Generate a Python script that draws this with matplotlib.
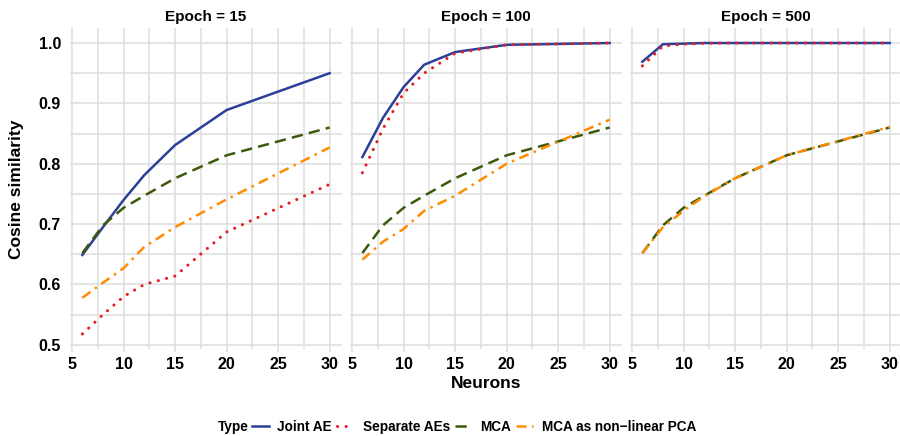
import matplotlib
matplotlib.use("Agg")
import matplotlib.pyplot as plt
from matplotlib.lines import Line2D
from matplotlib.ticker import MultipleLocator

plt.rcParams['font.family'] = ['Liberation Sans', 'DejaVu Sans']
plt.rcParams['font.weight'] = 'bold'

# ---------------- data ----------------
neurons = [6, 8, 10, 12, 15, 20, 30]
epochs = [15, 100, 500]
types = ["Joint AE", "Separate AEs", "MCA", "MCA as non\u2212linear PCA"]

joint_15 = [0.649, 0.695, 0.740, 0.781, 0.831, 0.889, 0.950]
sep_15 = [0.518, 0.550, 0.580, 0.600, 0.614, 0.687, 0.766]
mca_15 = [0.652, 0.698, 0.727, 0.747, 0.776, 0.814, 0.860]
pca_15 = [0.578, 0.603, 0.627, 0.662, 0.695, 0.741, 0.827]

joint_100 = [0.811, 0.876, 0.927, 0.964, 0.985, 0.997, 1.000]
sep_100 = [0.785, 0.858, 0.917, 0.950, 0.983, 0.997, 1.000]
mca_100 = [0.652, 0.698, 0.727, 0.747, 0.776, 0.814, 0.860]
pca_100 = [0.641, 0.671, 0.692, 0.722, 0.747, 0.800, 0.873]

joint_500 = [0.969, 0.998, 0.999, 1.000, 1.000, 1.000, 1.000]
sep_500 = [0.962, 0.995, 0.998, 0.9995, 1.000, 1.000, 1.000]
mca_500 = [0.652, 0.698, 0.727, 0.747, 0.776, 0.814, 0.860]
pca_500 = [0.652, 0.695, 0.722, 0.746, 0.776, 0.814, 0.861]

series = {
    15: [joint_15, sep_15, mca_15, pca_15],
    100: [joint_100, sep_100, mca_100, pca_100],
    500: [joint_500, sep_500, mca_500, pca_500],
}

x_ticks = [5, 10, 15, 20, 25, 30]
y_ticks = [0.5, 0.6, 0.7, 0.8, 0.9, 1.0]
y_ticklabels = ["0.5", "0.6", "0.7", "0.8", "0.9", "1.0"]

# ---------------- styles ----------------
colors = ["#2C4098", "#E41E26", "#3C5A0A", "#FF8C00"]
styles = [
    dict(linestyle='-', lw=1.8),
    dict(linestyle=(0, (0.05, 2.75)), lw=2.2, dash_capstyle='round'),
    dict(linestyle=(0, (4.5, 2.5)), lw=1.8),
    dict(linestyle=(0, (4, 2.2, 1, 2.2)), lw=1.8),
]
grid_col = "#DEDEDE"

W, H = 900, 436
fig = plt.figure(figsize=(W / 100, H / 100), dpi=100)

panel_left = [70, 350, 630]
panel_w = 272
top_px, bot_px = 28.4, 349.4

axes = []
for i, ep in enumerate(epochs):
    ax = fig.add_axes([panel_left[i] / W, 1 - bot_px / H, panel_w / W, (bot_px - top_px) / H])
    axes.append(ax)
    ax.set_xlim(4.8, 31.2)
    ax.set_ylim(0.4925, 1.0242)
    ax.xaxis.set_major_locator(MultipleLocator(5))
    ax.xaxis.set_minor_locator(MultipleLocator(2.5))
    ax.yaxis.set_major_locator(MultipleLocator(0.1))
    ax.yaxis.set_minor_locator(MultipleLocator(0.05))
    ax.set_xticks(x_ticks)
    ax.set_xticklabels([str(t) for t in x_ticks], fontsize=11.5, fontweight='bold')
    ax.grid(True, which='both', color=grid_col, lw=1.1)
    ax.set_axisbelow(True)
    for s in ax.spines.values():
        s.set_visible(False)
    ax.tick_params(axis='x', which='major', length=2.2, color=grid_col, width=1.1, pad=3)
    ax.tick_params(axis='x', which='minor', length=0)
    ax.tick_params(axis='y', which='both', length=0, pad=6.5)
    ax.set_yticks(y_ticks)
    if i == 0:
        ax.set_yticklabels(y_ticklabels, fontsize=11.5, fontweight='bold')
    else:
        ax.set_yticklabels([])
    for vals, c, st in zip(series[ep], colors, styles):
        ax.plot(neurons, vals, color=c, **st)
    ax.set_title(f"Epoch = {ep}", fontsize=11, fontweight='bold', pad=5)

fig.text((70 + 902) / 2 / W, 1 - 383 / H, "Neurons", ha='center', va='center',
         fontsize=12.5, fontweight='bold')
fig.text(17 / W, 1 - 189 / H, "Cosine similarity", ha='center', va='center',
         rotation=90, fontsize=12.5, fontweight='bold')

handles = [Line2D([], [], color=c, **st) for c, st in zip(colors, styles)]
leg = fig.legend(handles, types, ncol=4, loc='center',
                 bbox_to_anchor=(474 / W, 1 - 427 / H), frameon=False,
                 handlelength=1.25, handletextpad=0.65, columnspacing=0.35,
                 prop=dict(weight='bold', size=9.8, family=['Liberation Sans', 'DejaVu Sans']))
fig.text(218 / W, 1 - 427 / H, "Type", ha='left', va='center', fontsize=9.8, fontweight='bold')

fig.savefig("out.png", dpi=100)
